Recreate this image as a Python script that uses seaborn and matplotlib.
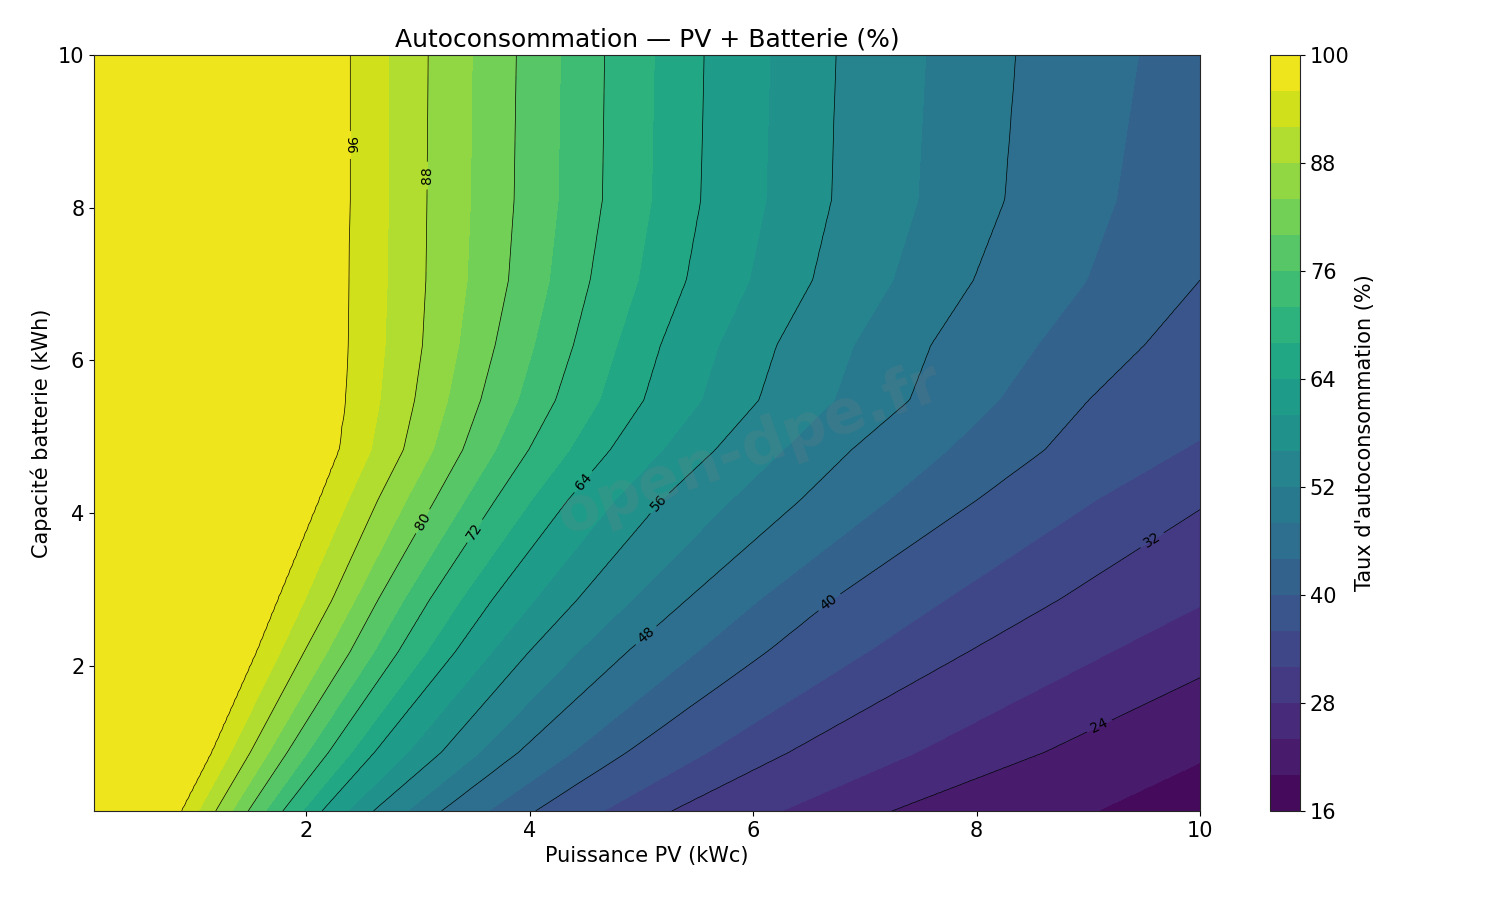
import numpy as np
import matplotlib
matplotlib.use("Agg")
import matplotlib.pyplot as plt
import seaborn as sns

line_levels = [96, 88, 80, 72, 64, 56, 48, 40, 32, 24]
battery_rows = [0.1, 0.87, 2.18, 2.86, 4.17, 4.83, 5.48, 6.2, 7.05, 8.1, 10.0]
pv_at_b0_1 = [0.88, 1.19, 1.48, 1.79, 2.14, 2.60, 3.21, 4.05, 5.27, 7.24]
pv_at_b0_87 = [1.15, 1.50, 1.83, 2.20, 2.61, 3.21, 3.90, 4.87, 6.32, 8.61]
pv_at_b2_18 = [1.55, 1.98, 2.39, 2.82, 3.33, 3.99, 4.87, 6.12, 7.92]
pv_at_b2_86 = [1.74, 2.23, 2.64, 3.10, 3.66, 4.42, 5.40, 6.70, 8.73]
pv_at_b4_17 = [2.11, 2.64, 3.15, 3.69, 4.34, 5.18, 6.42, 8.00]
pv_at_b4_83 = [2.29, 2.87, 3.40, 3.99, 4.72, 5.66, 6.88, 8.61]
pv_at_b5_48 = [2.35, 2.97, 3.56, 4.23, 5.02, 6.05, 7.40, 9.00]
pv_at_b6_2 = [2.37, 3.04, 3.69, 4.39, 5.17, 6.21, 7.59, 9.50]
pv_at_b7_05 = [2.38, 3.07, 3.81, 4.54, 5.40, 6.53, 7.97]
pv_at_b8_1 = [2.39, 3.08, 3.86, 4.65, 5.53, 6.70, 8.25]
pv_at_b10 = [2.39, 3.09, 3.88, 4.67, 5.56, 6.74, 8.35]
value_at_pv10 = [18.0, 20.5, 25.5, 28.3, 32.5, 35.5, 37.5, 38.8, 40.0, 41.0, 42.0]

fill_levels = list(range(16, 101, 4))
cbar_ticks = [16, 28, 40, 52, 64, 76, 88, 100]
label_pos = [(2.37, 8.82), (3.07, 8.42), (3.02, 3.91), (3.49, 3.78), (4.48, 4.41),
             (5.19, 4.10), (5.03, 2.42), (6.69, 2.82), (9.6, 3.58), (9.1, 1.21)]

rows_pv = [pv_at_b0_1, pv_at_b0_87, pv_at_b2_18, pv_at_b2_86, pv_at_b4_17,
           pv_at_b4_83, pv_at_b5_48, pv_at_b6_2, pv_at_b7_05, pv_at_b8_1, pv_at_b10]

# Complete each row: positions for all levels 104..16 (extending past the axes)
all_levels = [104] + line_levels + [16]
pos = []
for pvs, z10 in zip(rows_pv, value_at_pv10):
    p = list(pvs)
    n = len(p)
    slope = (line_levels[n - 1] - z10) / (10.0 - p[-1])
    for lv in line_levels[n:] + [16]:
        p.append(10.0 + (z10 - lv) / slope)
    p = [p[0] - (p[1] - p[0]) / 2] + p
    pos.append(p)
pos = np.array(pos)  # rows x levels

bat = np.linspace(0.1, 10, 300)
pv = np.linspace(0.1, 10, 300)
pos_fine = np.column_stack([np.interp(bat, battery_rows, pos[:, k]) for k in range(pos.shape[1])])
Z = np.empty((len(bat), len(pv)))
for i in range(len(bat)):
    Z[i] = np.interp(pv, pos_fine[i], all_levels)
Z = np.clip(Z, 16, 99.9)
PV, BAT = np.meshgrid(pv, bat)

sns.set_style("ticks")
plt.rcParams['font.family'] = ['DejaVu Sans']
for k in ['text.color', 'axes.labelcolor', 'xtick.color', 'ytick.color']:
    plt.rcParams[k] = 'black'
fig = plt.figure(figsize=(15, 9), dpi=100)
ax = fig.add_axes([0.0627, 0.099, 0.7373, 0.84])
cax = fig.add_axes([0.8467, 0.099, 0.02, 0.84])

cmap = sns.color_palette("viridis", as_cmap=True)
cf = ax.contourf(PV, BAT, Z, levels=fill_levels, cmap=cmap)
cs = ax.contour(PV, BAT, Z, levels=sorted(line_levels), colors='black', linewidths=0.5)
ax.clabel(cs, fmt='%d', fontsize=10, inline=True, manual=label_pos)

cb = fig.colorbar(cf, cax=cax, ticks=cbar_ticks)
cb.set_label("Taux d'autoconsommation (%)", fontsize=15)
cb.ax.tick_params(labelsize=15)

ax.set_title("Autoconsommation — PV + Batterie (%)", fontsize=18)
ax.set_xlabel("Puissance PV (kWc)", fontsize=15)
ax.set_ylabel("Capacité batterie (kWh)", fontsize=15)
ax.tick_params(labelsize=15)
ax.set_xticks([2, 4, 6, 8, 10])
ax.set_yticks([2, 4, 6, 8, 10])
ax.set_xlim(0.1, 10)
ax.set_ylim(0.1, 10)

fig.text(0.5, 0.5, "open-dpe.fr", fontsize=44, fontweight='bold', color='gray',
         alpha=0.18, rotation=20, ha='center', va='center')

fig.savefig("out.png", dpi=100)
